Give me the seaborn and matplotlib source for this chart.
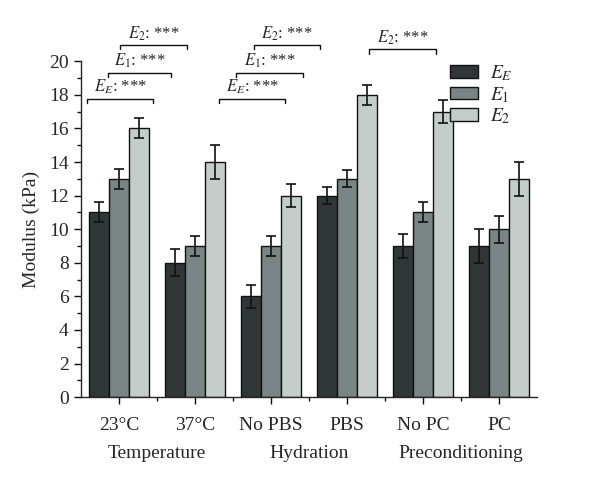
import numpy as np
import pandas as pd
import matplotlib
matplotlib.use("Agg")
import matplotlib.pyplot as plt
import seaborn as sns
from matplotlib.ticker import MultipleLocator, FixedLocator

# podaci
uvjeti = ['23°C', '37°C', 'No PBS', 'PBS', 'No PC', 'PC']
grupe = ['Temperature', 'Hydration', 'Preconditioning']
moduli = ['$E_E$', '$E_1$', '$E_2$']
vrijednosti_EE = [11, 8, 6, 12, 9, 9]
vrijednosti_E1 = [13, 9, 9, 13, 11, 10]
vrijednosti_E2 = [16, 14, 12, 18, 17, 13]
greske_EE = [0.6, 0.8, 0.7, 0.5, 0.7, 1.0]
greske_E1 = [0.6, 0.6, 0.6, 0.5, 0.6, 0.8]
greske_E2 = [0.6, 1.0, 0.7, 0.6, 0.7, 1.0]

# oznake znacajnosti: (x_od, x_do, visina, tekst)
zagrade = [
    (-0.42, 0.45, 17.75, '$E_E$: ***'),
    (-0.14, 0.68, 19.3, '$E_1$: ***'),
    (0.01, 0.90, 20.95, '$E_2$: ***'),
    (1.32, 2.19, 17.75, '$E_E$: ***'),
    (1.54, 2.42, 19.3, '$E_1$: ***'),
    (1.78, 2.64, 20.95, '$E_2$: ***'),
    (3.29, 4.17, 20.7, '$E_2$: ***'),
]

boje = ['#2f3737', '#768786', '#c4cecc']

sns.set_style('ticks')
plt.rcParams['font.family'] = ['Liberation Serif', 'DejaVu Serif']
plt.rcParams['mathtext.fontset'] = 'stix'
plt.rcParams['font.size'] = 14

df = pd.DataFrame({
    'uvjet': uvjeti * 3,
    'modul': [m for m in moduli for _ in uvjeti],
    'vrijednost': vrijednosti_EE + vrijednosti_E1 + vrijednosti_E2,
})
greske = [greske_EE, greske_E1, greske_E2]

fig = plt.figure(figsize=(6, 4.82), dpi=100)
ax = fig.add_axes([0.135, 0.176, 0.76, 0.697])

sns.barplot(data=df, x='uvjet', y='vrijednost', hue='modul', order=uvjeti,
            hue_order=moduli, palette=boje, errorbar=None, edgecolor='#111111',
            linewidth=1.0, width=0.8, ax=ax)

# error barovi na sredini svakog stupca
for cont, err in zip(ax.containers, greske):
    xs = [p.get_x() + p.get_width() / 2 for p in cont]
    ys = [p.get_height() for p in cont]
    ax.errorbar(xs, ys, yerr=err, fmt='none', ecolor='#111111',
                elinewidth=1.2, capsize=3.5, capthick=1.2)

ax.set_xlim(-0.5, 5.5)
ax.set_ylim(0, 20)
ax.yaxis.set_major_locator(MultipleLocator(2))
ax.yaxis.set_minor_locator(MultipleLocator(1))
ax.xaxis.set_minor_locator(FixedLocator(np.arange(0.5, 5.5, 1.0)))
ax.tick_params(axis='both', which='major', direction='out', length=5, width=1,
               labelsize=14, color='#111111')
ax.tick_params(axis='both', which='minor', direction='out', length=3, width=1,
               color='#111111')
ax.tick_params(axis='x', pad=9)
ax.tick_params(axis='y', pad=4)
sns.despine(ax=ax)
ax.spines['left'].set_linewidth(1)
ax.spines['bottom'].set_linewidth(1)
ax.set_xlabel('')
ax.set_ylabel('Modulus (kPa)', fontsize=14, labelpad=6)

# nazivi grupa ispod osi
for i, g in enumerate(grupe):
    ax.text(2 * i + 0.5, -0.143, g, transform=ax.get_xaxis_transform(),
            ha='center', va='top', fontsize=14)

# zagrade znacajnosti
for x0, x1, h, t in zagrade:
    ax.plot([x0, x0, x1, x1], [h - 0.25, h, h, h - 0.25], color='#111111',
            lw=1.0, clip_on=False)
    ax.text((x0 + x1) / 2, h + 0.15, t, ha='center', va='bottom',
            fontsize=12, clip_on=False)

ax.legend(title=None, loc='upper left', bbox_to_anchor=(0.771, 1.045),
          frameon=False, handlelength=1.45, handleheight=0.62, labelspacing=0.08,
          handletextpad=0.6, fontsize=14)

fig.savefig('out.png', dpi=100)
